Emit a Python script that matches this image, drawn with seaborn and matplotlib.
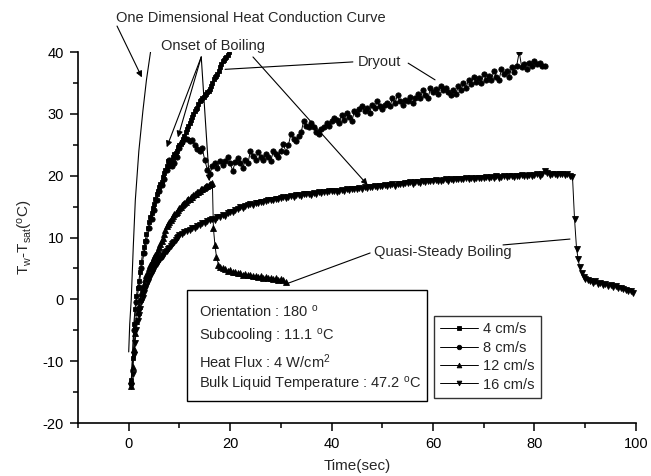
import numpy as np
import pandas as pd
import matplotlib
matplotlib.use("Agg")
import matplotlib.pyplot as plt
from matplotlib.patches import Rectangle
import seaborn as sns

# ---- data -------------------------------------------------------------
# 4 cm/s : sampled every 0.25 s
t_4 = np.arange(0.5, 20.01, 0.25)
T_4 = [-13.0, -9.5, -4.0, -1.5, 0.5, 1.8, 3.0, 4.5, 6.0, 7.5,
       8.5, 9.5, 10.5, 11.5, 12.5, 13.3, 14.0, 14.8, 15.5, 16.2,
       17.0, 17.6, 18.2, 18.6, 19.0, 19.8, 20.5, 21.0, 21.5, 22.3,
       22.0, 21.6, 22.5, 23.0, 23.5, 23.7, 24.0, 24.6, 25.0, 25.2,
       25.5, 26.0, 26.5, 27.0, 27.5, 28.0, 28.5, 29.0, 29.5, 30.0,
       30.5, 30.8, 31.0, 31.6, 32.0, 32.3, 32.5, 32.8, 33.0, 33.2,
       33.5, 33.7, 34.0, 34.5, 35.0, 35.6, 36.0, 36.2, 36.5, 37.0,
       37.5, 38.0, 38.5, 38.7, 39.0, 39.2, 39.5, 40.0, 40.5]

# 8 cm/s
t_8 = np.concatenate([np.arange(0.5, 11.01, 0.5), np.arange(11.5, 82.01, 0.5)])
T_8 = [-13.5, -5.0, -0.5, 2.0, 5.0, 7.5, 9.5, 11.5, 13.0, 14.5,
       16.0, 17.5, 18.5, 19.5, 21.0, 22.5, 21.5, 22.0, 23.0, 24.5,
       25.5, 26.0,
       26.0, 25.6, 25.8, 25.0, 24.3, 24.0, 24.4, 22.5, 21.0, 20.3,
       21.5, 22.0, 21.2, 22.4, 21.8, 22.3, 23.0, 22.0, 20.8, 22.2,
       22.9, 22.0, 21.3, 22.5, 22.0, 24.0, 23.2, 22.5, 23.8, 23.0,
       22.5, 23.5, 23.0, 22.3, 24.0, 23.5, 23.0, 24.0, 25.1, 23.8,
       25.0, 26.8, 26.0, 25.6, 26.5, 27.0, 28.9, 28.0, 27.8, 28.5,
       27.8, 27.0, 26.8, 27.5, 27.8, 28.5, 28.0, 28.8, 29.4, 29.0,
       28.5, 29.8, 29.0, 30.2, 29.5, 28.8, 30.5, 30.0, 30.8, 31.2,
       30.5, 31.0, 30.2, 31.5, 31.0, 32.0, 31.2, 30.8, 31.5, 31.8,
       31.2, 32.5, 31.8, 33.0, 32.0, 31.5, 32.2, 32.0, 32.8, 31.8,
       32.5, 33.2, 32.6, 33.8, 33.0, 32.5, 34.2, 33.5, 34.0, 33.2,
       34.5, 33.8, 34.2, 33.5, 33.0, 33.8, 33.2, 34.5, 33.8, 35.0,
       34.2, 35.5, 34.8, 36.0, 35.2, 35.8, 35.0, 36.5, 35.5, 36.2,
       35.5, 37.0, 36.0, 35.5, 37.2, 36.5, 36.9, 36.0, 37.5, 36.8,
       37.8, 40.0, 37.5, 38.0, 37.2, 38.2, 37.8, 38.5, 38.0, 38.3,
       37.8, 37.7]

# 12 cm/s
t_12 = np.concatenate([np.arange(0.5, 16.51, 0.25),
                       [16.7, 17.0, 17.3, 17.7],
                       np.arange(18.0, 31.01, 0.5)])
T_12 = [-14.0, -11.0, -8.0, -5.5, -3.5, -2.0, -1.0, 0.0, 1.0, 1.8,
        2.5, 3.3, 4.0, 4.5, 5.0, 5.5, 6.0, 6.4, 6.8, 7.2,
        7.5, 8.0, 8.5, 9.0, 9.5, 10.0, 10.5, 11.2, 11.8, 12.2,
        12.5, 12.9, 13.2, 13.5, 13.8, 14.0, 14.2, 14.5, 14.8, 15.0,
        15.2, 15.4, 15.6, 15.8, 16.0, 16.2, 16.3, 16.5, 16.6, 16.8,
        17.0, 17.1, 17.3, 17.4, 17.6, 17.8, 17.9, 18.0, 18.2, 18.3,
        18.4, 18.5, 18.6, 18.7, 18.8,
        11.5, 8.8, 6.9, 5.6,
        5.2, 5.0, 4.9, 4.6, 4.7, 4.4, 4.5, 4.2, 4.3, 4.0,
        4.1, 3.9, 4.0, 3.7, 3.8, 3.6, 3.7, 3.5, 3.6, 3.4,
        3.5, 3.3, 3.4, 3.2, 3.3, 3.1, 2.8]

# 16 cm/s
t_16 = np.concatenate([np.arange(0.5, 10.01, 0.25),
                       np.arange(10.5, 87.51, 0.5),
                       [87.9, 88.3, 88.6, 88.9, 89.3, 89.7],
                       np.arange(90.0, 99.51, 0.5)])
T_16 = [-14.0, -12.0, -9.0, -7.0, -5.0, -3.5, -2.5, -1.5, -0.5, 0.3,
        1.0, 1.7, 2.2, 2.8, 3.3, 3.8, 4.3, 4.6, 5.0, 5.4,
        5.7, 6.0, 6.4, 6.6, 6.8, 7.0, 7.3, 7.6, 7.9, 8.1,
        8.3, 8.6, 8.9, 9.1, 9.3, 9.6, 9.9, 10.1, 10.4,
        10.6, 10.9, 11.1, 11.2, 11.5, 11.6, 11.9, 12.0, 12.3, 12.4,
        12.7, 12.8, 13.0, 12.9, 13.3, 13.4, 13.6, 13.5, 13.9, 14.1,
        14.2, 14.5, 14.6, 14.9, 14.8, 15.1, 15.2, 15.4, 15.3, 15.6,
        15.6, 15.8, 15.7, 15.9, 16.0, 16.1, 16.0, 16.3, 16.2, 16.4,
        16.5, 16.4, 16.6, 16.7, 16.6, 16.8, 16.9, 16.7, 17.0, 17.0,
        17.1, 16.9, 17.2, 17.1, 17.3, 17.2, 17.4, 17.3, 17.5, 17.5,
        17.6, 17.4, 17.6, 17.7, 17.5, 17.8, 17.7, 17.9, 17.8, 17.9,
        18.0, 17.9, 18.1, 18.0, 18.2, 18.1, 18.3, 18.2, 18.3, 18.4,
        18.5, 18.3, 18.5, 18.6, 18.4, 18.6, 18.7, 18.6, 18.8, 18.8,
        18.9, 18.7, 18.9, 19.0, 18.8, 19.1, 19.0, 19.1, 19.2, 19.2,
        19.3, 19.1, 19.2, 19.3, 19.4, 19.2, 19.4, 19.3, 19.5, 19.4,
        19.5, 19.4, 19.6, 19.5, 19.7, 19.5, 19.6, 19.7, 19.6, 19.7,
        19.8, 19.6, 19.8, 19.7, 19.9, 19.7, 19.8, 19.9, 19.8, 19.9,
        20.0, 19.8, 20.0, 19.9, 20.1, 19.9, 20.0, 20.1, 20.0, 20.1,
        20.2, 20.0, 20.3, 20.7, 20.4, 20.1, 20.2, 20.3, 20.1, 20.2,
        20.3, 20.1, 20.2, 20.0, 19.8,
        13.0, 8.2, 6.6, 5.2, 4.2, 3.6,
        3.3, 3.1, 3.0, 2.7, 2.9, 2.5, 2.6, 2.3, 2.5, 2.2,
        2.4, 2.0, 2.2, 1.8, 1.9, 1.6, 1.5, 1.3, 1.4, 1.1]

# one-dimensional heat conduction curve
t_cond = [0.0, 0.2, 0.5, 0.9, 1.3, 2.0, 2.8, 3.5, 4.3]
T_cond = [-8.5, -4.0, 0.0, 8.5, 16.0, 24.0, 30.5, 35.5, 40.0]

series_labels = ["4 cm/s", "8 cm/s", "12 cm/s", "16 cm/s"]
info_lines = ["Orientation : 180 $^{\\rm o}$",
              "Subcooling : 11.1 $^{\\rm o}$C",
              "Heat Flux : 4 W/cm$^{\\rm 2}$",
              "Bulk Liquid Temperature : 47.2 $^{\\rm o}$C"]

# ---- style ------------------------------------------------------------
sns.set_theme(style="ticks")
plt.rcParams["font.family"] = ["Liberation Sans", "DejaVu Sans"]
plt.rcParams["mathtext.fontset"] = "custom"
plt.rcParams["mathtext.rm"] = "Liberation Sans"
plt.rcParams["mathtext.it"] = "Liberation Sans:italic"
plt.rcParams["axes.unicode_minus"] = False
plt.rcParams["font.size"] = 10

fig = plt.figure(figsize=(6.51, 4.76), dpi=100)
ax = fig.add_axes([0.1198, 0.1113, 0.857, 0.7794])

series = [(t_4, T_4, "s", 3.4), (t_8, T_8, "o", 3.8),
          (t_12, T_12, "^", 4.0), (t_16, T_16, "v", 4.0)]
for (tt, TT, mk, ms), lab in zip(series, series_labels):
    df = pd.DataFrame({"t": tt, "T": TT})
    sns.lineplot(data=df, x="t", y="T", ax=ax, color="black", lw=0.7,
                 marker=mk, markersize=ms, markeredgewidth=0.6,
                 markeredgecolor="black", markerfacecolor="black",
                 estimator=None, sort=False, label=lab)

sns.lineplot(x=t_cond, y=T_cond, ax=ax, color="black", lw=0.8,
             estimator=None, sort=False, legend=False)

ax.set_xlim(-10, 100)
ax.set_ylim(-20, 40)
ax.set_xticks([0, 20, 40, 60, 80, 100])
ax.set_xticks([-10, 10, 30, 50, 70, 90], minor=True)
ax.set_yticks([-20, -10, 0, 10, 20, 30, 40])
ax.set_yticks([-15, -5, 5, 15, 25, 35], minor=True)
ax.tick_params(axis="both", which="major", direction="out", length=6,
               width=1.1, labelsize=10.5, colors="black", pad=4)
ax.tick_params(axis="both", which="minor", direction="out", length=3.5,
               width=1.1, colors="black")
sns.despine(ax=ax)
for s in ("left", "bottom"):
    ax.spines[s].set_linewidth(1.2)
    ax.spines[s].set_color("black")

ax.set_xlabel("Time(sec)", fontsize=11, labelpad=6)
ax.set_ylabel("T$_{\\rm w}$-T$_{\\rm sat}$($^{\\rm o}$C)", fontsize=11,
              labelpad=6)

# legend of flow velocities
leg = ax.legend(loc="lower left", bbox_to_anchor=(0.638, 0.067),
                frameon=True, fancybox=False, fontsize=10.5,
                handlelength=2.6, handletextpad=0.3, labelspacing=0.3,
                borderpad=0.45, borderaxespad=0, markerscale=0.85)
leg.get_frame().set_edgecolor("black")
leg.get_frame().set_linewidth(1.0)

# test condition box
ax.add_patch(Rectangle((0.195, 0.059), 0.43, 0.299, transform=ax.transAxes,
                       fill=False, ec="black", lw=1.0))
for yy, line in zip([0.299, 0.232, 0.164, 0.105], info_lines):
    ax.text(0.217, yy, line, transform=ax.transAxes, fontsize=10.5,
            va="center", ha="left")

# annotations
head = dict(arrowstyle="-|>", color="black", lw=0.8, mutation_scale=9,
            shrinkA=0, shrinkB=0)
plain = dict(arrowstyle="-", color="black", lw=0.8, shrinkA=0, shrinkB=0)

ax.text(24.0, 45.5, "One Dimensional Heat Conduction Curve", ha="center",
        va="center", fontsize=10.5, clip_on=False)
ax.annotate("", xy=(2.6, 35.9), xytext=(-2.3, 44.2),
            annotation_clip=False, arrowprops=head)

ax.text(16.6, 40.9, "Onset of Boiling", ha="center", va="center",
        fontsize=10.5, clip_on=False)
for tip in [(7.5, 24.6), (9.7, 26.2), (15.9, 19.1)]:
    ax.annotate("", xy=tip, xytext=(14.3, 39.2), annotation_clip=False,
                arrowprops=head)
ax.annotate("", xy=(47.1, 18.5), xytext=(24.5, 39.2), annotation_clip=False,
            arrowprops=head)

ax.text(49.4, 38.4, "Dryout", ha="center", va="center", fontsize=10.5)
ax.annotate("", xy=(19.0, 37.2), xytext=(44.2, 38.4), arrowprops=plain)
ax.annotate("", xy=(60.4, 35.5), xytext=(55.1, 38.2), arrowprops=plain)

ax.text(62.0, 7.6, "Quasi-Steady Boiling", ha="center", va="center",
        fontsize=10.5)
ax.annotate("", xy=(31.4, 2.6), xytext=(47.6, 7.5), arrowprops=plain)
ax.annotate("", xy=(87.0, 9.75), xytext=(73.8, 8.8), arrowprops=plain)

fig.savefig("out.png", dpi=100)
